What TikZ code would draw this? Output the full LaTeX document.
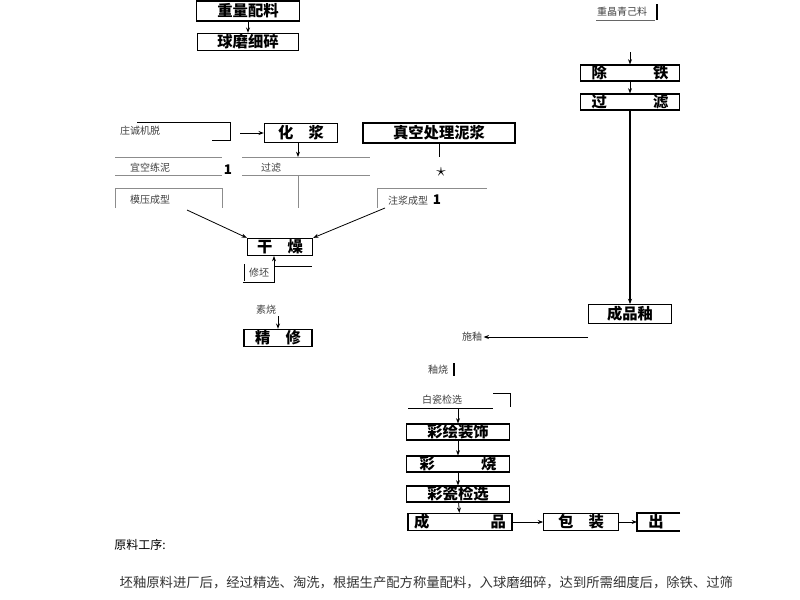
\documentclass[tikz,border=0pt]{standalone}
\usepackage{fontspec}
\setmainfont{Noto Sans CJK SC}
\usepackage{tikz}
\usetikzlibrary{arrows.meta, positioning}
\begin{document}
\begin{tikzpicture}
        [x=0.75pt, y=-0.75pt,
        stage/.style={draw=black, thick, inner sep=0pt, font=\bfseries\fontsize{11.5}{11.5}\selectfont},
        note/.style={inner sep=1pt, text=black!75, font=\fontsize{7.5}{8}\selectfont},
        thin line/.style={black!45, semithick},
        arr/.style={-{Stealth[length=4pt]}, semithick}]
        \useasboundingbox (0,0) rectangle (800,600);
        % upper left chain
        \node (peiliao) at (248,11) [stage, minimum width=77pt, minimum height=15pt] {重量配料};
        \node (qiumo) at (248,42) [stage, minimum width=76pt, minimum height=13pt] {球磨细碎};
        \draw[arr] (peiliao) -- (qiumo);
        \node (zhuang) at (140,131) [note] {庄诚机脱};
        \draw[semithick] (137,122) -- (230,122) -- (230,140) -- (212,140);
        \node (huajiang) at (301,133) [stage, minimum width=55pt, minimum height=14pt] {化\quad 浆};
        \coordinate (hj in) at (240,133);
        \draw[arr] (hj in) -- (huajiang);
        \node (zhenkong) at (439,133) [stage, minimum width=114pt, minimum height=15pt] {真空处理泥浆};
        \node (star) at (441,172) {\Large$\star$};
        \draw[semithick] (zhenkong) -- (439,157);
        % thin lines
        \draw[thin line] (115,157) -- (222,157) (242,157) -- (370,157);
        \draw[thin line] (115,175) -- (222,175) (242,175) -- (370,175);
        \node (lianni) at (150,168) [note] {宜空练泥};
        \node at (228,170) {\bfseries 1};
        \node (guolv1) at (271,168) [note] {过滤};
        \coordinate (hj top) at (298,157);
        \draw[arr] (huajiang.south -| hj top) -- (hj top);
        \draw[thin line] (298,175) -- (298,208);
        \draw[thin line] (115,208) -- (115,188) -- (222,188) -- (222,208);
        \node (moya) at (150,200) [note] {模压成型};
        \draw[thin line] (377,208) -- (377,188) -- (487,188);
        \node (zhujiang) at (408,201) [note] {注浆成型};
        \node at (437,200) {\bfseries 1};
        % drying
        \node (ganzao) at (280,247) [stage, minimum width=49pt, minimum height=13pt] {干\quad 燥};
        \coordinate (moya out) at (187,210);
        \coordinate (zhujiang out) at (385,208);
        \draw[arr] (moya out) -- (ganzao.north west);
        \draw[arr] (zhujiang out) -- (ganzao.north east);
        \node (xiupi) at (259,273) [note] {修坯};
        \draw[semithick] (244,264) -- (244,281) (243,282) -- (275,282);
        \draw[arr] (274,282) -- (274,256);
        \draw[semithick] (274,266) -- (312,266);
        \node (sushao) at (266,310) [note] {素烧};
        \node (jingxiu) at (278,338) [stage, minimum width=51pt, minimum height=13pt] {精\quad 修};
        \draw[arr] (sushao.south -| 278,0) -- (jingxiu);
        % glaze chain
        \node (zhongjing) at (622,12) [note] {重晶青己料};
        \draw[black!60] (596,20) -- (655,20);
        \draw[thick] (657,4) -- (657,20);
        \node (chutie) at (630,73) [stage, minimum width=74pt, minimum height=12pt] {除\hspace{3em}铁};
        \node (guolv) at (630,102) [stage, minimum width=74pt, minimum height=12pt] {过\hspace{3em}滤};
        \coordinate (chutie in) at (630,52);
        \draw[arr] (chutie in) -- (chutie);
        \draw[arr] (chutie) -- (guolv);
        \node (chengpinyou) at (630,314) [stage, minimum width=62pt, minimum height=14pt] {成品釉};
        \draw[arr, thick] (guolv) -- (chengpinyou);
        \node (shiyou) at (472,337) [note] {施釉};
        \draw[arr] (chengpinyou.south west |- 0,337) -- (shiyou);
        \node (youshao) at (438,370) [note] {釉烧};
        \draw[thick] (454,363) -- (454,376);
        % lower chain
        \node (jianxuan) at (442,400) [note] {白瓷检选};
        \draw[semithick] (408,408) -- (493,408);
        \draw[semithick] (493,393) -- (510,393) -- (510,407);
        \node (caihui) at (458,432) [stage, minimum width=77pt, minimum height=12pt] {彩绘装饰};
        \node (caishao) at (458,464) [stage, minimum width=77pt, minimum height=12pt] {彩\hspace{3em}烧};
        \node (caici) at (458,494) [stage, minimum width=77pt, minimum height=12pt] {彩瓷检选};
        \node (chengpin) at (460,522) [stage, minimum width=78pt, minimum height=13pt] {成\hspace{4em}品};
        \node (baozhuang) at (581,522) [stage, minimum width=56pt, minimum height=13pt] {包\quad 装};
        \draw[arr] (458,408) -- (caihui);
        \draw[arr] (caihui) -- (caishao);
        \draw[arr] (caishao) -- (caici);
        \draw[arr] (caici) -- (chengpin);
        \draw[arr] (chengpin) -- (baozhuang);
        \draw[thick] (680,513) -- (637,513) -- (637,531) -- (680,531);
        \node (chu) at (656,522) [inner sep=0pt, font=\bfseries\fontsize{11.5}{11.5}\selectfont] {出};
        \draw[arr] (baozhuang) -- (chu.west -| 637,0);
        % text below
        \node (title) at (140,545) [font=\fontsize{9}{9}\selectfont] {原料工序:};
        \node (para) at (115,583) [anchor=west, text=black!80, font=\fontsize{10}{10}\selectfont] {坯釉原料进厂后，经过精选、淘洗，根据生产配方称量配料，入球磨细碎，达到所需细度后，除铁、过筛};
\end{tikzpicture}
\end{document}
